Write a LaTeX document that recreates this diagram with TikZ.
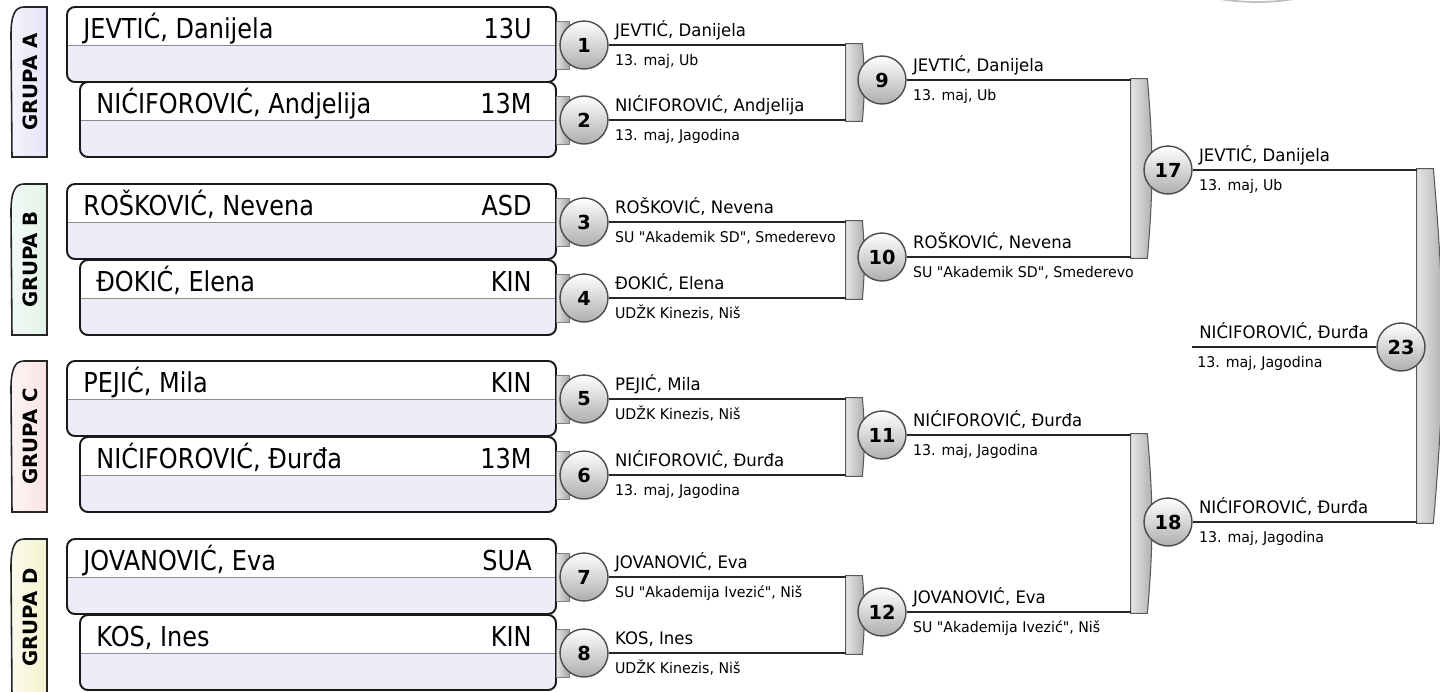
\documentclass[tikz,border=0pt]{standalone}
\usepackage{fontspec}
\setmainfont{DejaVu Sans}[Ligatures=TeXOff]
\newfontfamily\boxfont{DejaVu Sans}[Ligatures=TeXOff, FakeStretch=0.875]
\newfontfamily\smallfont{DejaVu Sans}[Ligatures=TeXOff, FakeStretch=0.96]
\usetikzlibrary{positioning}

\definecolor{boxlow}{HTML}{EFECF9}
\definecolor{grpA}{HTML}{E4E4F8}
\definecolor{grpB}{HTML}{E2F2E8}
\definecolor{grpC}{HTML}{FAE3E4}
\definecolor{grpD}{HTML}{F4F4D0}

\tikzset{
  bigname/.style={font=\boxfont\fontsize{15.6}{18}\selectfont, inner sep=0pt},
  midname/.style={font=\smallfont\fontsize{9.8}{11}\selectfont, anchor=base west, inner sep=0pt},
  datetext/.style={font=\smallfont\fontsize{8.4}{10}\selectfont, anchor=base west, inner sep=0pt},
  ball/.style={circle, draw=black!70, line width=0.8pt, top color=white, bottom color=black!32, minimum size=0.96cm, inner sep=0pt, font=\bfseries\fontsize{11}{11}\selectfont},
  bar/.style={rectangle, minimum width=0.32cm, inner sep=0pt},
  barfill/.style={draw=black!65, line width=0.6pt, left color=black!10, right color=black!32},
  wire/.style={line width=1.6pt, draw=black!85},
  boxline/.style={line width=1.1pt, draw=black!90},
  grouplabel/.style={rotate=90, font=\bfseries\fontsize{11.2}{12}\selectfont, inner sep=0pt},
}

\begin{document}
\begin{tikzpicture}[x=0.02cm, y=-0.02cm]
  \useasboundingbox (0,0) rectangle (1440,691);
  % faint edge at the top
  \draw[black!25, line width=1pt] (1220,-1) .. controls (1245,3) and (1270,3) .. (1294,-1);

  % group tabs
  \foreach \g/\t/\b/\col in {A/7/157/grpA, B/184/335/grpB, C/361/512/grpC, D/539/696/grpD} {
    \draw[line width=0.9pt, black!85, left color=\col!40, right color=\col] (47,\t) -- (24,\t) .. controls (14,\t) and (11,\t+10) .. (11,\t+28) -- (12,\b) -- (47,\b) -- cycle;
    \node[grouplabel] (g\g) at (30,{(\t+\b)/2}) {GRUPA \g};
  }

  % player boxes
  \foreach \i/\c/\l/\who/\club in {1/45/67/{JEVTIĆ, Danijela}/13U, 2/120/80/{NIĆIFOROVIĆ, Andjelija}/13M,
      3/222/67/{ROŠKOVIĆ, Nevena}/ASD, 4/298/80/{ĐOKIĆ, Elena}/KIN,
      5/399/67/{PEJIĆ, Mila}/KIN, 6/475/80/{NIĆIFOROVIĆ, Đurđa}/13M,
      7/577/67/{JOVANOVIĆ, Eva}/SUA, 8/653/80/{KOS, Ines}/KIN} {
    \begin{scope}
      \clip[rounded corners=4.5pt] (\l,\c-38) rectangle (556,\c+37);
      \fill[boxlow] (\l,\c-38) rectangle (556,\c+37);
      \fill[white] (\l,\c-38) rectangle (556,\c);
    \end{scope}
    \draw[black!45] (\l,\c) -- (556,\c);
    \draw[boxline, rounded corners=4.5pt] (\l,\c-38) rectangle (556,\c+37);
    \node[bigname, anchor=base west] (p\i) at (\l+16,\c-7) {\who};
    \node[bigname, anchor=base east] (k\i) at (532,\c-7) {\club};
    \draw[black!50, left color=black!10, right color=black!35] (556,\c-24) rectangle (569,\c+24);
  }

  % brackets
  \foreach \b/\ta/\tb/\x in {9/44/121/846, 10/221/299/846, 11/398/476/846, 12/576/654/846,
      17/79/258/1131, 18/434/613/1131, 23/169/523/1417} {
    \node[bar, minimum height={(\tb-\ta)*0.02cm}] (bar\b) at (\x+8,{(\ta+\tb)/2}) {};
    \path[barfill] (bar\b.north west) -- (bar\b.north east) to[bend left=5] (bar\b.south east) -- (bar\b.south west) -- cycle;
  }

  % matches
  \foreach \m/\c in {1/45, 2/120, 3/222, 4/298, 5/399, 6/475, 7/577, 8/653}
    \node[ball] (m\m) at (584,\c) {\m};
  \node[ball] (m9) at (882,80) {9};
  \node[ball] (m10) at (882,257) {10};
  \node[ball] (m11) at (882,435) {11};
  \node[ball] (m12) at (882,612) {12};
  \node[ball] (m17) at (1168,170) {17};
  \node[ball] (m18) at (1168,522) {18};
  \node[ball] (m23) at (1401,347) {23};

  \foreach \a/\b in {1/9, 2/9, 3/10, 4/10, 5/11, 6/11, 7/12, 8/12, 9/17, 10/17, 11/18, 12/18, 17/23, 18/23}
    \draw[wire] (m\a) -- (m\a -| bar\b.west);
  \coordinate (fend) at (1192,347);
  \draw[wire] (m23) -- (fend);

  % winners and places
  \foreach \m/\who/\where in {1/{JEVTIĆ, Danijela}/{13. maj, Ub}, 2/{NIĆIFOROVIĆ, Andjelija}/{13. maj, Jagodina},
      3/{ROŠKOVIĆ, Nevena}/{SU "Akademik SD", Smederevo}, 4/{ĐOKIĆ, Elena}/{UDŽK Kinezis, Niš},
      5/{PEJIĆ, Mila}/{UDŽK Kinezis, Niš}, 6/{NIĆIFOROVIĆ, Đurđa}/{13. maj, Jagodina},
      7/{JOVANOVIĆ, Eva}/{SU "Akademija Ivezić", Niš}, 8/{KOS, Ines}/{UDŽK Kinezis, Niš},
      9/{JEVTIĆ, Danijela}/{13. maj, Ub}, 10/{ROŠKOVIĆ, Nevena}/{SU "Akademik SD", Smederevo},
      11/{NIĆIFOROVIĆ, Đurđa}/{13. maj, Jagodina}, 12/{JOVANOVIĆ, Eva}/{SU "Akademija Ivezić", Niš},
      17/{JEVTIĆ, Danijela}/{13. maj, Ub}, 18/{NIĆIFOROVIĆ, Đurđa}/{13. maj, Jagodina}} {
    \path (m\m.east) ++(6,-9) node[midname] (w\m) {\who};
    \path (m\m.east) ++(6,20) node[datetext] (s\m) {\where};
  }
  \node[midname] (w23) at (1199,338) {NIĆIFOROVIĆ, Đurđa};
  \node[datetext] (s23) at (1197,367) {13. maj, Jagodina};
\end{tikzpicture}
\end{document}
